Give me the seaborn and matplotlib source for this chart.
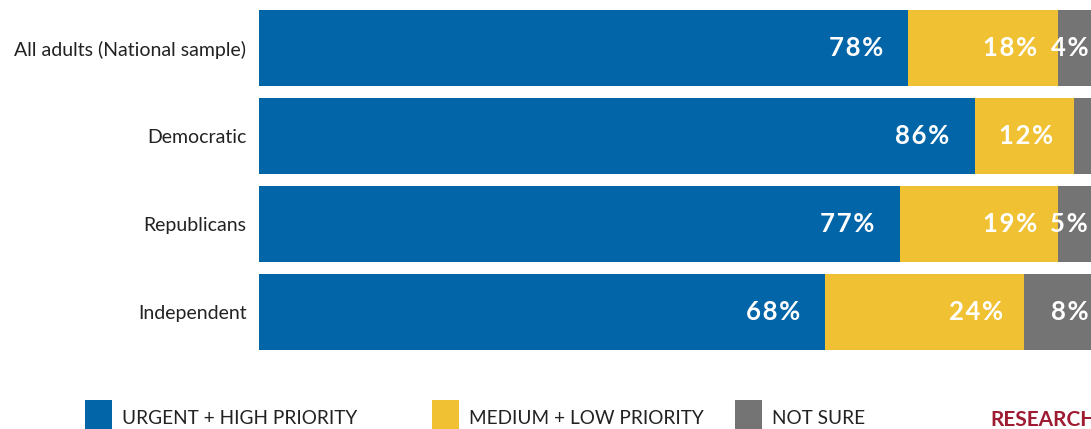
import matplotlib
matplotlib.use("Agg")
import matplotlib.pyplot as plt
import matplotlib.patches as mpatches
import seaborn as sns
import pandas as pd
import numpy as np

categories = ["All adults (National sample)", "Democratic", "Republicans", "Independent"]
urgent_high = [78, 86, 77, 68]
medium_low = [18, 12, 19, 24]
not_sure = [4, 2, 5, 8]
series_names = ["URGENT + HIGH PRIORITY", "MEDIUM + LOW PRIORITY", "NOT SURE"]
colors = ["#0265A8", "#F0C233", "#747474"]

sns.set_theme(style="white")
plt.rcParams["font.family"] = ["Lato", "DejaVu Sans"]

fig = plt.figure(figsize=(10.91, 4.29), dpi=100)
ax = fig.add_axes([259 / 1091, 1 - 356 / 429, 1 - 259 / 1091, 352 / 429])

df = pd.DataFrame({"cat": categories, "u": urgent_high, "m": medium_low, "n": not_sure})
df["um"] = df["u"] + df["m"]
df["umn"] = df["um"] + df["n"]

for col, c in zip(["umn", "um", "u"], colors[::-1]):
    sns.barplot(data=df, y="cat", x=col, orient="h", color=c, width=0.86,
                saturation=1, ax=ax, edgecolor="none")

ax.set_xlim(0, 100)
ax.set_ylim(3.5, -0.5)
ax.set_xlabel("")
ax.set_ylabel("")
ax.set_xticks([])
sns.despine(ax=ax, left=True, bottom=True)
ax.tick_params(axis="y", length=0, pad=9, labelsize=14, labelcolor="#222222")


def spaced(s):
    return "\u200a".join(s)


ends = [df["u"], df["um"], df["umn"]]
vals = [df["u"], df["m"], df["n"]]
pads = [-18, -15, -2]
for k in range(3):
    for i in range(len(categories)):
        v = vals[k].iloc[i]
        if v < 3:
            continue
        xend = min(ends[k].iloc[i], 100)
        ax.annotate(spaced(f"{v}%"), xy=(xend, i), xytext=(pads[k], 0), textcoords="offset points",
                    ha="right", va="center", color="white", fontsize=18.5, fontweight="bold")

# legend
leg_x = [85, 432, 735]
for x, name, c in zip(leg_x, series_names, colors):
    fig.add_artist(mpatches.Rectangle((x / 1091, 0), 27 / 1091, 29 / 429,
                                      transform=fig.transFigure, color=c, lw=0))
    fig.text((x + 37) / 1091, 1 - 418 / 429, name, ha="left", va="center",
             fontsize=13.7, color="#222222")

fig.text(990 / 1091, 1 - 420 / 429, "RESEARCH", ha="left", va="center",
         fontsize=15, fontweight="bold", color="#9E1B32")

fig.savefig("out.png", dpi=100)
